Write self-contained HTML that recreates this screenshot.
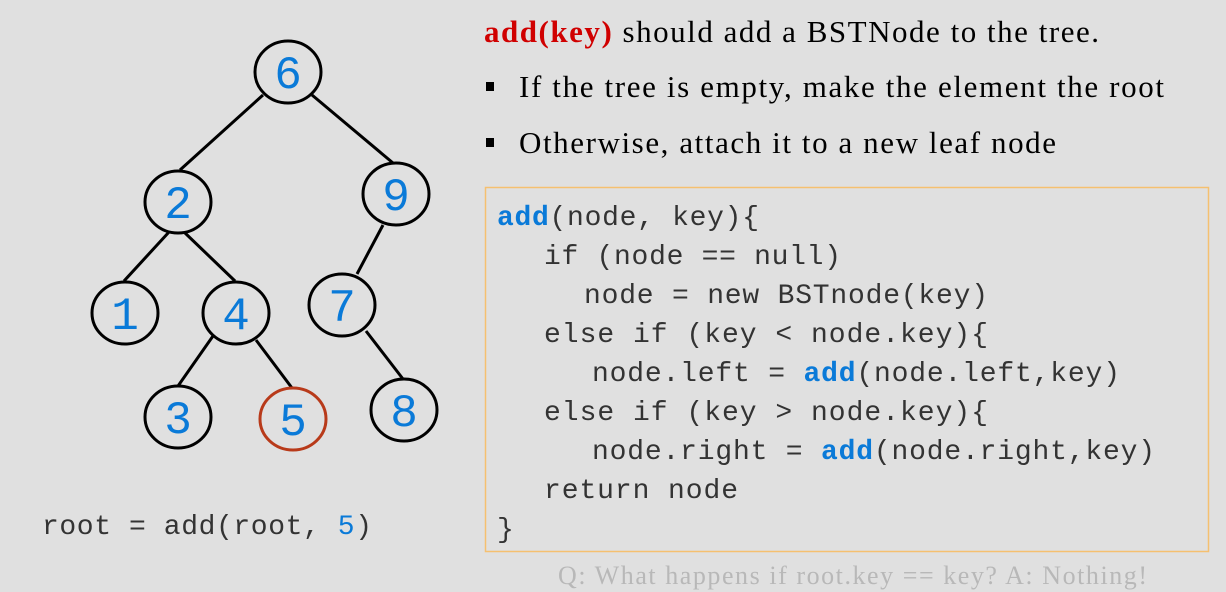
<!DOCTYPE html>
<html><head><meta charset="utf-8"><style>
html,body{margin:0;padding:0;background:#e0e0e0;}
svg{display:block}
</style></head><body>
<svg width="1226" height="592" viewBox="0 0 1226 592" xmlns="http://www.w3.org/2000/svg">
<rect width="1226" height="592" fill="#e0e0e0"/>
<g stroke="#000" stroke-width="3" fill="none">
<line x1="263" y1="95" x2="180" y2="170"/>
<line x1="312" y1="95" x2="393" y2="163"/>
<line x1="169" y1="232" x2="124" y2="281"/>
<line x1="184" y1="232" x2="235" y2="281"/>
<line x1="383" y1="225" x2="357" y2="274"/>
<line x1="213" y1="336" x2="178" y2="386"/>
<line x1="256" y1="340" x2="292" y2="388"/>
<line x1="366" y1="331" x2="403" y2="379"/>
</g>
<g stroke="#000" stroke-width="3" fill="#e0e0e0">
<ellipse cx="288" cy="72" rx="33" ry="31"/>
<ellipse cx="178" cy="202" rx="33" ry="31"/>
<ellipse cx="396" cy="194" rx="33" ry="31"/>
<ellipse cx="125" cy="313" rx="33" ry="31"/>
<ellipse cx="236" cy="313" rx="33" ry="31"/>
<ellipse cx="342" cy="305" rx="33" ry="31"/>
<ellipse cx="178" cy="417" rx="33" ry="31"/>
<ellipse cx="404" cy="410" rx="33" ry="31"/>
<ellipse cx="293" cy="419" rx="33" ry="31" stroke="#b83a1a"/>
</g>
<g fill="#0a7ad8" font-family="Liberation Mono, monospace" font-size="46" text-anchor="middle">
<text x="288" y="88">6</text>
<text x="178" y="218">2</text>
<text x="396" y="210">9</text>
<text x="125" y="329">1</text>
<text x="236" y="329">4</text>
<text x="342" y="321">7</text>
<text x="178" y="433">3</text>
<text x="404" y="426">8</text>
<text x="293" y="435">5</text>
</g>
<text x="42" y="534" font-family="Liberation Mono, monospace" font-size="28" fill="#333" textLength="330">root = add(root, <tspan fill="#0a7ad8">5</tspan>)</text>
<g font-family="Liberation Serif, serif" font-size="31" fill="#000">
<text x="484" y="42" textLength="615"><tspan fill="#d00000" font-weight="bold">add(key)</tspan> should add a BSTNode to the tree.</text>
<rect x="486" y="82" width="8" height="9"/>
<text x="519" y="97" textLength="645">If the tree is empty, make the element the root</text>
<rect x="486" y="138" width="8" height="9"/>
<text x="519" y="153" textLength="537">Otherwise, attach it to a new leaf node</text>
</g>
<rect x="485.5" y="187.5" width="723" height="364" fill="none" stroke="#f5c070" stroke-width="1.5"/>
<g font-family="Liberation Mono, monospace" font-size="28" fill="#333">
<text x="497" y="225" textLength="262"><tspan fill="#0a7ad8" font-weight="bold">add</tspan>(node, key){</text>
<text x="544" y="264" textLength="297">if (node == null)</text>
<text x="584" y="303" textLength="404">node = new BSTnode(key)</text>
<text x="544" y="342" textLength="444">else if (key &lt; node.key){</text>
<text x="592" y="381" textLength="528">node.left = <tspan fill="#0a7ad8" font-weight="bold">add</tspan>(node.left,key)</text>
<text x="544" y="420" textLength="444">else if (key &gt; node.key){</text>
<text x="592" y="459" textLength="563">node.right = <tspan fill="#0a7ad8" font-weight="bold">add</tspan>(node.right,key)</text>
<text x="544" y="498" textLength="194">return node</text>
<text x="497" y="537">}</text>
</g>
<text x="558" y="584" font-family="Liberation Serif, serif" font-size="26" fill="#b8b8b8" textLength="589">Q: What happens if root.key == key? A: Nothing!</text>
</svg>
</body></html>
